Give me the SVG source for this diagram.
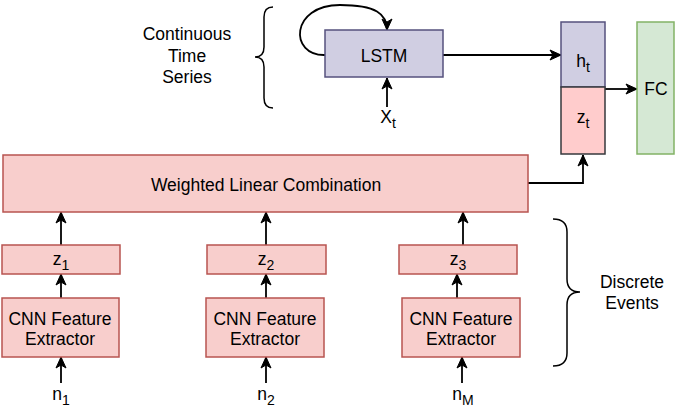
<svg xmlns="http://www.w3.org/2000/svg" width="677" height="412" viewBox="0 0 677 412">
<defs>
<style>
.pink{fill:#f8cecc;stroke:#b85450;stroke-width:1.5}
.purple{fill:#d0cee2;stroke:#56517e;stroke-width:1.5}
.green{fill:#d5e8d4;stroke:#82b366;stroke-width:1.5}
.zt{fill:#ffcccc;stroke:#36393d;stroke-width:1.5}
.t{font-family:"Liberation Sans",Arial,Helvetica,sans-serif;font-size:17.5px;fill:#000;text-anchor:middle}
.sub{font-size:14px}
.c{fill:none;stroke:#000;stroke-width:1.8}
.br{fill:none;stroke:#000;stroke-width:1.5}
</style>
<marker id="arr" markerUnits="userSpaceOnUse" markerWidth="12" markerHeight="10" refX="11" refY="5" orient="auto" overflow="visible">
<path d="M0,0 L11,5 L0,10 L3,5 Z" fill="#000" stroke="#000" stroke-width="1"/>
</marker>
</defs>
<rect width="677" height="412" fill="#fff"/>

<g id="connectors">
<path class="c" d="M325,55 C289,56 290,5 340,5 C376,5 387,14 387,30" marker-end="url(#arr)"/>
<path class="c" d="M387,107 L387,78" marker-end="url(#arr)"/>
<path class="c" d="M443,55 L561,55" marker-end="url(#arr)"/>
<path class="c" d="M605,89 L637,89" marker-end="url(#arr)"/>
<path class="c" d="M528,183 L583,183 L583,155" marker-end="url(#arr)"/>
<path class="c" d="M61,245 L61,212" marker-end="url(#arr)"/>
<path class="c" d="M266,245 L266,212" marker-end="url(#arr)"/>
<path class="c" d="M463,245 L463,212" marker-end="url(#arr)"/>
<path class="c" d="M61,298 L61,274" marker-end="url(#arr)"/>
<path class="c" d="M266,298 L266,274" marker-end="url(#arr)"/>
<path class="c" d="M457,298 L457,274" marker-end="url(#arr)"/>
<path class="c" d="M61,383 L61,357" marker-end="url(#arr)"/>
<path class="c" d="M266,383 L266,357" marker-end="url(#arr)"/>
<path class="c" d="M462,383 L462,357" marker-end="url(#arr)"/>
</g>

<g id="brace-continuous">
<path class="br" d="M273,7 Q264,7 264,17 L264,47 Q264,57 255,57 Q264,57 264,67 L264,98 Q264,108 273,108"/>
<text class="t" x="187" y="40">Continuous</text>
<text class="t" x="187" y="62">Time</text>
<text class="t" x="187" y="83">Series</text>
</g>

<g id="brace-discrete">
<path class="br" d="M553,219 Q567,219 567,232 L567,279 Q567,292 580,292 Q567,292 567,305 L567,353 Q567,366 553,366"/>
<text class="t" x="632" y="288">Discrete</text>
<text class="t" x="632" y="309">Events</text>
</g>

<g id="lstm">
<rect class="purple" x="325" y="30" width="118" height="47"/>
<text class="t" x="384" y="62">LSTM</text>
</g>

<g id="xt">
<text class="t" x="388" y="123">X<tspan class="sub" dy="5">t</tspan></text>
</g>

<g id="ht">
<rect class="purple" x="561" y="22" width="44" height="65"/>
<text class="t" x="583" y="67">h<tspan class="sub" dy="5">t</tspan></text>
</g>

<g id="zt">
<rect class="zt" x="561" y="87" width="44" height="67"/>
<text class="t" x="583" y="123">z<tspan class="sub" dy="5">t</tspan></text>
</g>

<g id="fc">
<rect class="green" x="637" y="22" width="37" height="132"/>
<text class="t" x="656" y="95">FC</text>
</g>

<g id="wlc">
<rect class="pink" x="3" y="155" width="525" height="57"/>
<text class="t" x="266" y="191">Weighted Linear Combination</text>
</g>

<g id="z1">
<rect class="pink" x="2" y="245" width="118" height="29"/>
<text class="t" x="61" y="265">z<tspan class="sub" dy="5">1</tspan></text>
</g>
<g id="z2">
<rect class="pink" x="207" y="245" width="119" height="29"/>
<text class="t" x="266" y="265">z<tspan class="sub" dy="5">2</tspan></text>
</g>
<g id="z3">
<rect class="pink" x="399" y="245" width="118" height="29"/>
<text class="t" x="458" y="265">z<tspan class="sub" dy="5">3</tspan></text>
</g>

<g id="cnn1">
<rect class="pink" x="2" y="298" width="117" height="59"/>
<text class="t" x="60" y="325">CNN Feature</text>
<text class="t" x="60" y="345">Extractor</text>
</g>
<g id="cnn2">
<rect class="pink" x="206" y="298" width="118" height="59"/>
<text class="t" x="265" y="325">CNN Feature</text>
<text class="t" x="265" y="345">Extractor</text>
</g>
<g id="cnn3">
<rect class="pink" x="402" y="298" width="118" height="59"/>
<text class="t" x="461" y="325">CNN Feature</text>
<text class="t" x="461" y="345">Extractor</text>
</g>

<g id="n1"><text class="t" x="61" y="400">n<tspan class="sub" dy="5">1</tspan></text></g>
<g id="n2"><text class="t" x="266" y="400">n<tspan class="sub" dy="5">2</tspan></text></g>
<g id="nM"><text class="t" x="463" y="400">n<tspan class="sub" dy="5">M</tspan></text></g>
</svg>
